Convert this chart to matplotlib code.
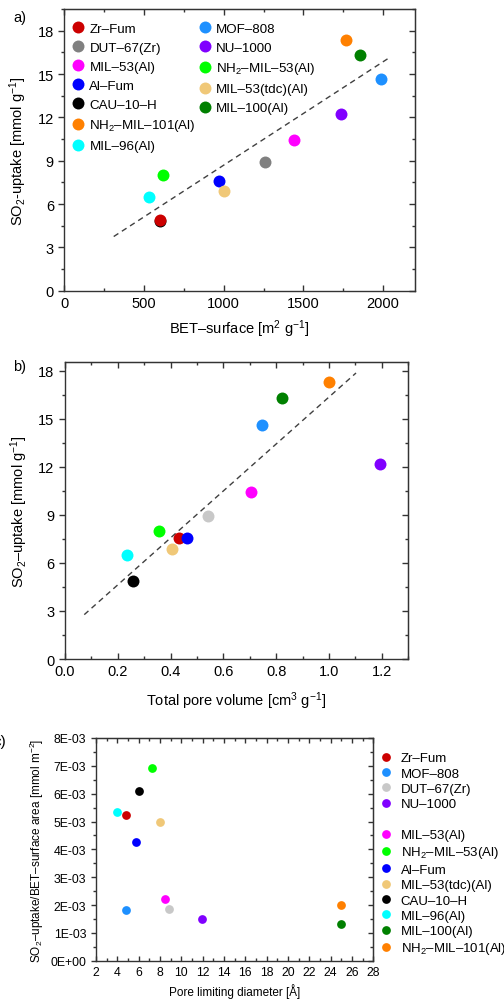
import matplotlib
matplotlib.use("Agg")
import matplotlib.pyplot as plt
from matplotlib.ticker import MultipleLocator, FuncFormatter
from matplotlib.lines import Line2D

plt.rcParams['font.family'] = ['Liberation Sans', 'DejaVu Sans']
plt.rcParams['mathtext.fontset'] = 'custom'
plt.rcParams['mathtext.rm'] = 'Liberation Sans'
plt.rcParams['mathtext.it'] = 'Liberation Sans:italic'
plt.rcParams['mathtext.bf'] = 'Liberation Sans:bold'

# MOFs (order of the legend in panel c)
mofs = ['Zr–Fum', 'MOF–808', 'DUT–67(Zr)', 'NU–1000',
        'MIL–53(Al)', 'NH$_2$–MIL–53(Al)', 'Al–Fum', 'MIL–53(tdc)(Al)',
        'CAU–10–H', 'MIL–96(Al)', 'MIL–100(Al)', 'NH$_2$–MIL–101(Al)']
colors = ['#cc0000', '#1e90ff', '#c8c8c8', '#8000ff',
          '#ff00ff', '#00ff00', '#0000ff', '#f0c878',
          '#000000', '#00ffff', '#008000', '#ff8000']
colors_a = list(colors)
colors_a[2] = '#808080'   # DUT-67 drawn darker grey in panel a

# panel a: SO2 uptake vs BET surface
bet_surface = [600, 1989, 1257, 1737, 1444, 620, 969, 1000, 600, 530, 1856, 1768]
uptake_a = [4.92, 14.62, 8.94, 12.2, 10.44, 8.02, 7.58, 6.89, 4.8, 6.51, 16.29, 17.33]
fit_a = [0.00716, 1.53]          # slope, intercept
fit_a_range = [310, 2030]

# panel b: SO2 uptake vs total pore volume
pore_volume = [0.432, 0.747, 0.541, 1.191, 0.705, 0.356, 0.463, 0.407, 0.258, 0.235, 0.822, 0.998]
uptake_b = [7.54, 14.6, 8.94, 12.17, 10.42, 8.0, 7.54, 6.88, 4.84, 6.5, 16.27, 17.31]
fit_b = [14.66, 1.70]
fit_b_range = [0.073, 1.102]

# panel c: uptake per BET area vs pore limiting diameter
pld = [4.78, 4.78, 8.81, 11.97, 8.47, 7.28, 5.78, 8.0, 6.0, 3.94, 25.0, 25.0]
uptake_area = [5.25e-3, 1.82e-3, 1.87e-3, 1.49e-3, 2.20e-3, 6.92e-3,
               4.28e-3, 4.97e-3, 6.11e-3, 5.35e-3, 1.32e-3, 2.01e-3]

# legend order in panel a (two columns, blank slot at the end)
order_a = [0, 2, 4, 6, 8, 11, 9, 1, 3, 5, 7, 10]

W, H = 504, 1003
fig = plt.figure(figsize=(W / 100, H / 100), dpi=100)

spine_c = '#333333'


def frame(ax, xmaj, xmin, ymaj, ymin, lsize, tlen=4):
    for s in ax.spines.values():
        s.set_color(spine_c)
        s.set_linewidth(1.0)
    ax.xaxis.set_major_locator(MultipleLocator(xmaj))
    ax.xaxis.set_minor_locator(MultipleLocator(xmin))
    ax.yaxis.set_major_locator(MultipleLocator(ymaj))
    ax.yaxis.set_minor_locator(MultipleLocator(ymin))
    ax.tick_params(axis='x', which='both', direction='in', colors=spine_c,
                   labelcolor='black', labelsize=lsize)
    ax.tick_params(axis='y', which='both', direction='out', colors=spine_c,
                   labelcolor='black', labelsize=lsize)
    ax.tick_params(which='major', length=tlen, width=1.0)
    ax.tick_params(which='minor', length=tlen * 0.55, width=1.0)
    top = ax.secondary_xaxis('top')
    top.xaxis.set_major_locator(MultipleLocator(xmaj))
    top.xaxis.set_minor_locator(MultipleLocator(xmin))
    top.tick_params(which='both', direction='in', labeltop=False, colors=spine_c)
    top.tick_params(which='major', length=tlen, width=1.0)
    top.tick_params(which='minor', length=tlen * 0.55, width=1.0)
    top.spines['top'].set_color(spine_c)
    right = ax.secondary_yaxis('right')
    right.yaxis.set_major_locator(MultipleLocator(ymaj))
    right.yaxis.set_minor_locator(MultipleLocator(ymin))
    right.tick_params(which='both', direction='in', labelright=False, colors=spine_c)
    right.tick_params(which='major', length=tlen, width=1.0)
    right.tick_params(which='minor', length=tlen * 0.55, width=1.0)
    right.spines['right'].set_color(spine_c)


# ---------------- panel a ----------------
ax1 = fig.add_axes([64.3 / W, 1 - 291.7 / H, 350.7 / W, 281.7 / H])
handles_a = []
for i in range(len(mofs)):
    h, = ax1.plot(bet_surface[i], uptake_a[i], 'o', color=colors_a[i], ms=8.6,
                  mew=0, zorder=3 if i != 8 else 2.5, label=mofs[i])
    handles_a.append(h)
xs = fit_a_range
ax1.plot(xs, [fit_a[0] * x + fit_a[1] for x in xs], '--', color='#404040',
         lw=1.0, dashes=(4, 3), zorder=2)
ax1.set_xlim(0, 2200)
ax1.set_ylim(0, 19.5)
frame(ax1, 500, 250, 3, 1.5, 10.5)
ax1.set_xlabel('BET–surface [m$^2$ g$^{-1}$]', fontsize=10.5, labelpad=6)
ax1.set_ylabel('SO$_2$-uptake [mmol g$^{-1}$]', fontsize=10.5, labelpad=6)
blank = Line2D([], [], linestyle='none', marker='')
hl = [handles_a[i] for i in order_a]
ll = [mofs[i] for i in order_a]
hl.append(blank)
ll.append('')
ax1.legend(hl, ll, ncol=2, loc='upper left', bbox_to_anchor=(-0.01, 0.99),
           frameon=False, fontsize=9.6, handlelength=1.0, handletextpad=0.35,
           labelspacing=0.5, columnspacing=0.15, borderpad=0.2,
           borderaxespad=0.6)
fig.text(13 / W, 1 - 18 / H, 'a)', fontsize=10.5, va='center')

# ---------------- panel b ----------------
ax2 = fig.add_axes([65 / W, 1 - 660 / H, 343.3 / W, 297.3 / H])
for i in range(len(mofs)):
    ax2.plot(pore_volume[i], uptake_b[i], 'o', color=colors[i], ms=8.6, mew=0, zorder=3)
xs = fit_b_range
ax2.plot(xs, [fit_b[0] * x + fit_b[1] for x in xs], '--', color='#404040',
         lw=1.0, dashes=(4, 3), zorder=2)
ax2.set_xlim(0, 1.3)
ax2.set_ylim(0, 18.56)
frame(ax2, 0.2, 0.1, 3, 1.5, 10.5)
ax2.xaxis.set_major_formatter(FuncFormatter(lambda v, p: f'{v:.1f}'))
ax2.set_xlabel('Total pore volume [cm$^3$ g$^{-1}$]', fontsize=10.5, labelpad=8)
ax2.set_ylabel('SO$_2$–uptake [mmol g$^{-1}$]', fontsize=10.5, labelpad=6)
fig.text(13 / W, 1 - 367 / H, 'b)', fontsize=10.5, va='center')

# ---------------- panel c ----------------
ax3 = fig.add_axes([96 / W, 1 - 961.7 / H, 277.3 / W, 222.7 / H])
handles_c = []
for i in range(len(mofs)):
    h, = ax3.plot(pld[i], uptake_area[i], 'o', color=colors[i], ms=6.3, mew=0,
                  zorder=3, label=mofs[i])
    handles_c.append(h)
ax3.set_xlim(2, 28)
ax3.set_ylim(0, 0.008)
frame(ax3, 2, 1, 0.001, 0.0005, 8.8, tlen=3.5)
ax3.yaxis.set_major_formatter(FuncFormatter(lambda v, p: f'{v:.0E}'))
ax3.set_xlabel('Pore limiting diameter [Å]', fontsize=8.5, labelpad=4)
ax3.set_ylabel('SO$_2$–uptake/BET–surface area [mmol m$^{-2}$]', fontsize=8.5, labelpad=3)
hc = handles_c[:4] + [blank] + handles_c[4:]
lc = mofs[:4] + [''] + mofs[4:]
ax3.legend(hc, lc, loc='upper left', bbox_to_anchor=(0.985, 0.985),
           frameon=False, fontsize=9.5, handlelength=1.0, handletextpad=0.6,
           labelspacing=0.24, borderpad=0.3)
fig.text(6 / W, 1 - 742 / H, 'c)', fontsize=11, va='center', ha='right')

fig.savefig('out.png', dpi=100)
